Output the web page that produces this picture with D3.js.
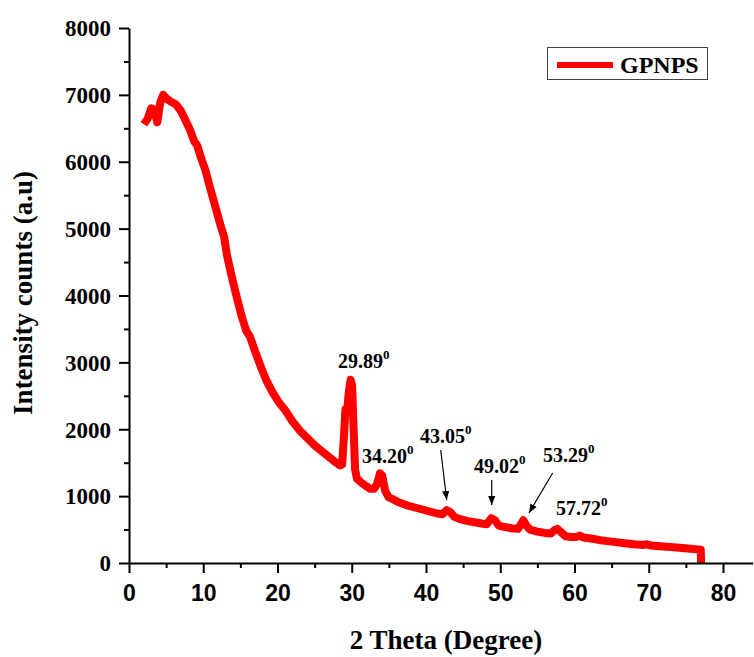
<!DOCTYPE html>
<html>
<head>
<meta charset="utf-8">
<script src="https://cdn.jsdelivr.net/npm/d3@7"></script>
<style>
  body { margin: 0; background: #fff; }
  svg { display: block; }
</style>
</head>
<body>
<svg id="chart" width="754" height="657"></svg>
<script>
// 2 theta (degree) and intensity counts
const theta = [2.0, 2.5, 3.0, 3.4, 3.8, 4.2, 4.6, 5.0, 5.6, 6.3, 7.0, 7.6, 8.2, 8.8, 9.2, 9.7,
  10.3, 10.9, 11.6, 12.3, 12.8, 13.2, 13.8, 14.5, 15.2, 15.8, 16.3, 17.0, 17.8, 18.5, 19.3,
  20.2, 21.0, 22.0, 23.0, 24.0, 25.0, 26.0, 27.0, 27.8, 28.4, 28.7, 28.95, 29.15, 29.35, 29.6,
  29.85, 30.05, 30.25, 30.45, 30.7, 31.2, 31.8, 32.5, 33.0, 33.4, 33.8, 34.1, 34.5, 35.0, 35.6,
  36.5, 37.5, 38.5, 39.5, 40.5, 41.5, 42.2, 42.8, 43.3, 43.8, 44.5, 45.5, 46.5, 47.5, 48.2,
  48.8, 49.3, 49.8, 50.5, 51.5, 52.4, 52.8, 53.1, 53.5, 54.0, 55.0, 56.0, 56.8, 57.3, 57.7,
  58.2, 58.8, 59.5, 60.3, 60.7, 61.2, 62.0, 62.6, 63.5, 65.0, 66.5, 68.0, 69.2, 69.7, 70.3,
  71.5, 73.0, 74.5, 76.0, 77.0, 77.05]
const intensity = [6560, 6640, 6800, 6780, 6590, 6880, 7000, 6950, 6900, 6860, 6760, 6620, 6480, 6300, 6240, 6060,
  5870, 5620, 5340, 5060, 4880, 4600, 4300, 3980, 3680, 3470, 3380, 3160, 2920, 2730, 2560,
  2400, 2290, 2120, 1980, 1870, 1760, 1670, 1580, 1510, 1460, 1470, 1900, 2300, 2250, 2550,
  2740, 2650, 2000, 1400, 1260, 1210, 1160, 1110, 1110, 1180, 1340, 1310, 1080, 980, 950,
  900, 860, 830, 800, 770, 740, 730, 790, 760, 690, 660, 630, 610, 590, 580,
  670, 640, 560, 540, 520, 510, 580, 640, 560, 500, 470, 450, 440, 490, 510,
  460, 400, 390, 390, 410, 380, 370, 360, 340, 320, 300, 280, 270, 280, 260,
  250, 240, 225, 210, 200, 0]

const xTicks = [0, 10, 20, 30, 40, 50, 60, 70, 80]
const yTicks = [0, 1000, 2000, 3000, 4000, 5000, 6000, 7000, 8000]

// peak labels: text, label anchor (theta, counts), optional arrow from -> to
const peakLabels = ["29.89", "34.20", "43.05", "49.02", "53.29", "57.72"]
const labelAt = [[28.15, 2916], [31.38, 1495], [39.19, 1794], [46.46, 1346], [55.76, 1510], [57.51, 718]]
const arrows = [null, null, [[41.98, 1690], [42.79, 942]], [[48.85, 1241], [48.85, 867]], [[57.06, 1346], [53.87, 748]], null]

const seriesName = "GPNPS"

const svg = d3.select("#chart")
const serif = "'Liberation Serif', 'Times New Roman', serif"
const sans = "'Liberation Sans', Arial, sans-serif"

const x = d3.scaleLinear().domain([0, 84]).range([129, 752.7])
const y = d3.scaleLinear().domain([0, 8000]).range([563, 28])

svg.append("defs").append("marker")
  .attr("id", "arr").attr("viewBox", "0 0 10 10")
  .attr("refX", 10).attr("refY", 5)
  .attr("markerWidth", 9).attr("markerHeight", 9)
  .attr("markerUnits", "userSpaceOnUse")
  .attr("orient", "auto")
  .append("path").attr("d", "M0,1 L10,5 L0,9 z").attr("fill", "#000")

// data line
const pts = theta.map((t, i) => [t, intensity[i]])
svg.append("path")
  .datum(pts)
  .attr("fill", "none")
  .attr("stroke", "#ff0000")
  .attr("stroke-width", 8)
  .attr("stroke-linejoin", "round")
  .attr("d", d3.line().x(d => x(d[0])).y(d => y(d[1])))

// axes
const xAxis = svg.append("g").attr("transform", "translate(0,563)")
  .call(d3.axisBottom(x).tickValues(xTicks).tickSize(10).tickSizeOuter(0).tickFormat(d3.format("d")))
const xMinor = svg.append("g").attr("transform", "translate(0,563)")
  .call(d3.axisBottom(x).tickValues(d3.range(5, 84, 10)).tickSize(5).tickSizeOuter(0).tickFormat(""))
xMinor.select(".domain").remove()

const yAxis = svg.append("g").attr("transform", "translate(129,0)")
  .call(d3.axisLeft(y).tickValues(yTicks).tickSize(10).tickSizeOuter(0).tickFormat(d3.format("d")))
const yMinor = svg.append("g").attr("transform", "translate(129,0)")
  .call(d3.axisLeft(y).tickValues(d3.range(500, 8000, 1000)).tickSize(5).tickSizeOuter(0).tickFormat(""))
yMinor.select(".domain").remove()

svg.selectAll(".domain, .tick line").attr("stroke", "#000").attr("stroke-width", 2)

xAxis.selectAll(".tick text")
  .attr("font-family", sans).attr("font-weight", "bold").attr("font-size", 23)
  .attr("fill", "#000").attr("dy", null).attr("y", 38)
yAxis.selectAll(".tick text")
  .attr("font-family", serif).attr("font-weight", "bold").attr("font-size", 23)
  .attr("fill", "#000").attr("x", -18).attr("dy", "0.34em")

// axis titles
svg.append("text")
  .attr("x", 446).attr("y", 649)
  .attr("text-anchor", "middle")
  .attr("font-family", serif).attr("font-weight", "bold").attr("font-size", 27)
  .text("2 Theta (Degree)")

svg.append("text")
  .attr("transform", "translate(32,293) rotate(-90)")
  .attr("text-anchor", "middle")
  .attr("font-family", serif).attr("font-weight", "bold").attr("font-size", 27)
  .text("Intensity counts (a.u)")

// peak annotations
peakLabels.forEach((lab, i) => {
  const t = svg.append("text")
    .attr("x", x(labelAt[i][0])).attr("y", y(labelAt[i][1]))
    .attr("font-family", serif).attr("font-weight", "bold").attr("font-size", 20)
    .attr("fill", "#000")
  t.append("tspan").text(lab)
  t.append("tspan").attr("dy", -9).attr("font-size", 13).text("0")
  if (arrows[i]) {
    const a = arrows[i]
    svg.append("line")
      .attr("x1", x(a[0][0])).attr("y1", y(a[0][1]))
      .attr("x2", x(a[1][0])).attr("y2", y(a[1][1]))
      .attr("stroke", "#000").attr("stroke-width", 1.2)
      .attr("marker-end", "url(#arr)")
  }
})

// legend
const lg = svg.append("g")
lg.append("rect")
  .attr("x", 547.5).attr("y", 47.5).attr("width", 160).attr("height", 32)
  .attr("fill", "#fff").attr("stroke", "#444").attr("stroke-width", 1)
lg.append("line")
  .attr("x1", 557).attr("x2", 613).attr("y1", 65).attr("y2", 65)
  .attr("stroke", "#ff0000").attr("stroke-width", 6)
lg.append("text")
  .attr("x", 620).attr("y", 73)
  .attr("font-family", serif).attr("font-weight", "bold").attr("font-size", 24)
  .text(seriesName)
</script>
</body>
</html>
